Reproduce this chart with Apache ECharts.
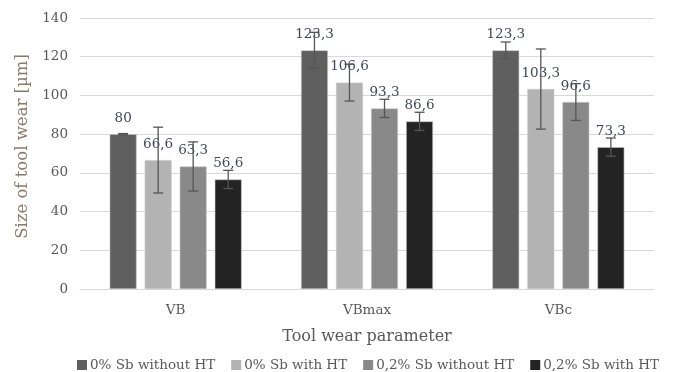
<!DOCTYPE html>
<html><head><meta charset="utf-8">
<script src="https://cdn.jsdelivr.net/npm/echarts@6/dist/echarts.min.js"></script>
<style>html,body{margin:0;padding:0;background:#fff}#c{width:677px;height:372px}</style>
</head><body><div id="c"></div>
<script>
const categories = ['VB', 'VBmax', 'VBc'];
const seriesNames = ['0% Sb without HT', '0% Sb with HT', '0,2% Sb without HT', '0,2% Sb with HT'];
const values = [
  [80, 123.3, 123.3],
  [66.6, 106.6, 103.3],
  [63.3, 93.3, 96.6],
  [56.6, 86.6, 73.3]
];
const errors = [
  [0.3, 9.3, 4.3],
  [17, 9.5, 20.7],
  [12.7, 4.7, 9.5],
  [4.7, 4.7, 4.7]
];
const colors = ['#5f5f5f', '#b3b3b3', '#898989', '#232323'];
const FONT = 'DejaVu Serif';
const catGap = 0.31, barGapR = 0.30;

const barSeries = seriesNames.map((n, i) => ({
  name: n, type: 'bar',
  data: values[i],
  barGap: '30%', barCategoryGap: '31%',
  itemStyle: { color: colors[i], borderColor: '#c8c8c8', borderWidth: 0.6 },
  label: { show: true, position: 'top', distance: 9,
    formatter: p => String(p.value).replace('.', ','),
    fontFamily: FONT, fontSize: 13.5, color: '#404858' },
  z: 2
}));

const errData = [];
for (let s = 0; s < 4; s++) for (let c = 0; c < 3; c++)
  errData.push([c, values[s][c] - errors[s][c], values[s][c] + errors[s][c], s]);

const errSeries = {
  type: 'custom', name: 'err', data: errData, z: 5,
  encode: { x: 0, y: [1, 2] },
  renderItem: (params, api) => {
    const c = api.value(0), lo = api.value(1), hi = api.value(2), s = api.value(3);
    const band = api.size([1, 0])[0];
    const w = band * (1 - catGap) / (4 + 3 * barGapR);
    const group = band * (1 - catGap);
    const center = api.coord([c, 0])[0];
    const x = center - group / 2 + s * w * (1 + barGapR) + w / 2;
    const yl = api.coord([c, lo])[1], yh = api.coord([c, hi])[1];
    const cap = 5;
    const st = { stroke: '#555', lineWidth: 1.3 };
    return { type: 'group', children: [
      { type: 'line', shape: { x1: x, y1: yl, x2: x, y2: yh }, style: st },
      { type: 'line', shape: { x1: x - cap, y1: yl, x2: x + cap, y2: yl }, style: st },
      { type: 'line', shape: { x1: x - cap, y1: yh, x2: x + cap, y2: yh }, style: st }
    ]};
  },
  tooltip: { show: false }
};

const chart = echarts.init(document.getElementById('c'));
chart.setOption({
  animation: false,
  color: colors,
  grid: { left: 80, right: 23, top: 18, bottom: 83 },
  legend: {
    data: seriesNames, top: 353, left: 72,
    icon: 'rect', itemWidth: 10, itemHeight: 10, itemGap: 16,
    itemStyle: { borderWidth: 0 },
    textStyle: { fontFamily: FONT, fontSize: 13.5, color: '#595959', padding: [0, 0, 0, -2] }
  },
  xAxis: {
    type: 'category', data: categories,
    name: 'Tool wear parameter', nameLocation: 'middle', nameGap: 40,
    nameTextStyle: { fontFamily: FONT, fontSize: 16, color: '#595959' },
    axisLine: { lineStyle: { color: '#d9d9d9' } },
    axisTick: { show: false },
    axisLabel: { fontFamily: FONT, fontSize: 13.5, color: '#595959', margin: 14 }
  },
  yAxis: {
    type: 'value', min: 0, max: 140, interval: 20,
    name: 'Size of tool wear [µm]', nameLocation: 'middle', nameGap: 46,
    nameTextStyle: { fontFamily: FONT, fontSize: 16.5, color: '#8a7a6a', padding: [0, 0, 0, 14] },
    axisLabel: { fontFamily: FONT, fontSize: 13.5, color: '#595959', margin: 12 },
    splitLine: { lineStyle: { color: '#d9d9d9' } },
    axisLine: { show: false }, axisTick: { show: false }
  },
  series: [...barSeries, errSeries]
});
</script></body></html>
